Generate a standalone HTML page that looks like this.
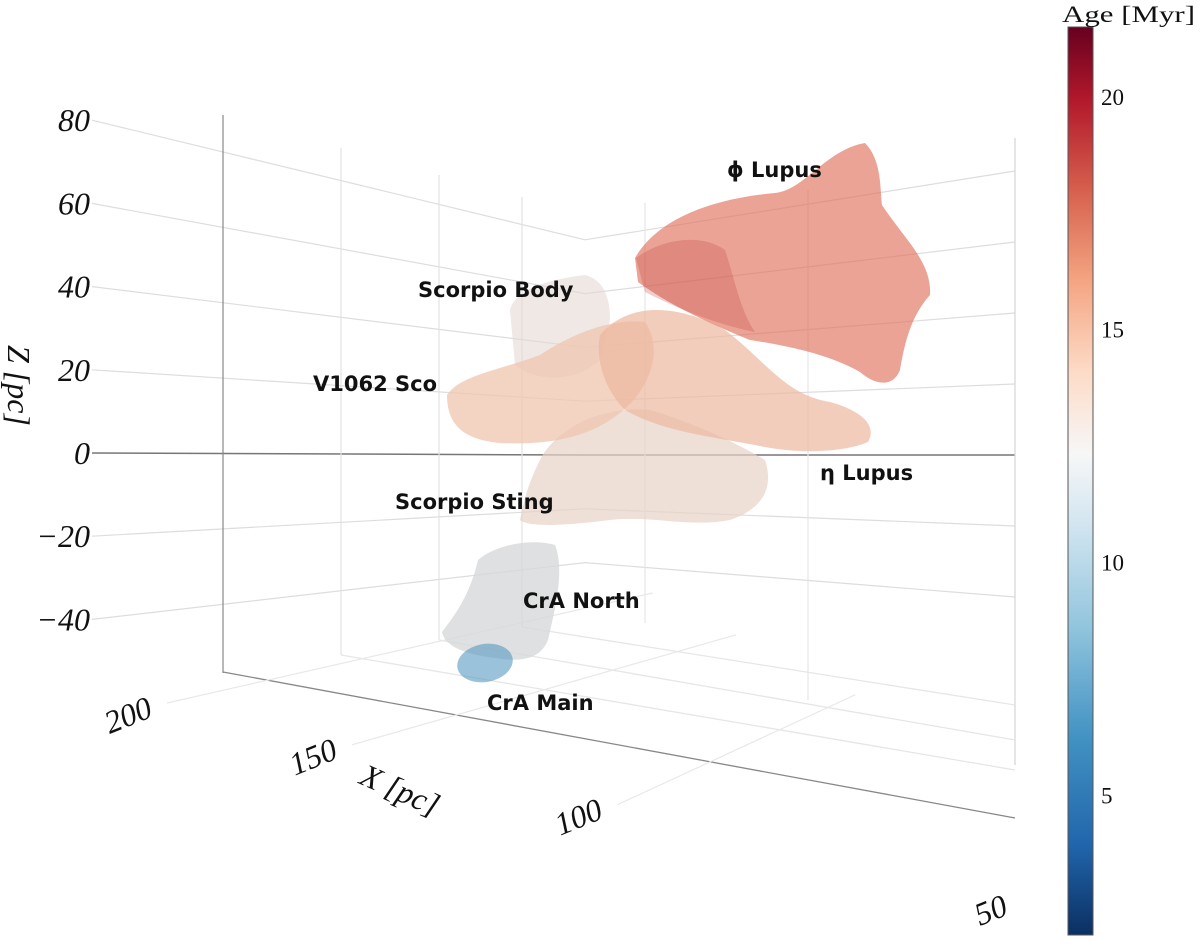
<!DOCTYPE html>
<html><head><meta charset="utf-8">
<style>
html,body{margin:0;padding:0;background:#fff;}
svg{display:block;}
.tick{font-family:"Liberation Serif",serif;font-size:32px;fill:#111;font-style:italic;}
.lab{font-family:"DejaVu Sans","Liberation Sans",sans-serif;font-size:21px;fill:#111;font-weight:bold;}
.cb{font-family:"Liberation Serif",serif;font-size:23px;fill:#111;}
</style></head>
<body>
<svg id="chart" width="1200" height="951" viewBox="0 0 1200 951" xmlns="http://www.w3.org/2000/svg">
<defs>
<linearGradient id="rdbu" x1="0" y1="1" x2="0" y2="0">
<stop offset="0" stop-color="#0b2f62"/>
<stop offset="0.1" stop-color="#2166ac"/>
<stop offset="0.22" stop-color="#4393c3"/>
<stop offset="0.34" stop-color="#92c5de"/>
<stop offset="0.45" stop-color="#d1e5f0"/>
<stop offset="0.53" stop-color="#f7f7f7"/>
<stop offset="0.62" stop-color="#fddbc7"/>
<stop offset="0.72" stop-color="#f4a582"/>
<stop offset="0.82" stop-color="#d6604d"/>
<stop offset="0.92" stop-color="#b2182b"/>
<stop offset="1" stop-color="#67001f"/>
</linearGradient>
</defs>
<g id="grid"></g>
<g id="blobs"></g>
<g id="labels"></g>
<g id="axes"></g>
<g id="colorbar"></g>
</svg>
<script>
const zTicks = [80, 60, 40, 20, 0, -20, -40];
const xTicks = [200, 150, 100, 50];
const cbTicks = [20, 15, 10, 5];
const cbRange = [2, 21.5];
const clusterNames = ["Scorpio Body", "V1062 Sco", "Scorpio Sting", "CrA North", "CrA Main", "η Lupus", "ϕ Lupus"];
const clusterAges = [13, 14.5, 13.5, 12.2, 7, 15, 17.5];

const NS = "http://www.w3.org/2000/svg";
function mk(tag, attrs, parent){const e=document.createElementNS(NS,tag);for(const k in attrs)e.setAttribute(k,attrs[k]);parent.appendChild(e);return e;}

function zLeft(z){return 453 - z*4.16;}
function zBack(z){return 455 - z*2.69;}
function zRight(z){return 455 - z*3.55;}

const grid=document.getElementById('grid');
zTicks.forEach(z=>{
  const c = z===0 ? '#777' : '#ddd';
  const l1=mk('polyline',{points:`92,${zLeft(z)} 585,${zBack(z)} 1015,${zRight(z)}`,fill:'none',stroke:c,'stroke-width':z===0?1.5:1.2},grid);
  
  
});
[[223,115,673,'#888'],[341,148,655,'#e2e2e2'],[439,175,640,'#e2e2e2'],[522,197,627,'#e2e2e2'],[645,203,623,'#e6e6e6'],[808,190,700,'#e6e6e6'],[1015,138,765,'#d4d4d4']].forEach(v=>{
  const l=mk('line',{x1:v[0],y1:v[1],x2:v[0],y2:v[2],stroke:v[3],'stroke-width':1.2},grid);
  
  
});
[[223,672,1015,818,'#888'],[341,655,1015,770,'#e6e6e6'],[439,640,1015,740,'#e6e6e6'],[522,627,1015,705,'#e6e6e6']].forEach(v=>{
  const l=mk('line',{x1:v[0],y1:v[1],x2:v[2],y2:v[3],stroke:v[4],'stroke-width':1.3},grid);
  
  
});
function xU(x){const t=(200-x)/150;return t/(1-0.454*t)/1.832;}
function xPos(x){const u=xU(x);return [132+863*u, 715+195*u];}
xTicks.forEach(x=>{
  const p=xPos(x);
  const x1=p[0]+35, y1=p[1]-12;
  if(x1>=1000) return;
  let x2=x1+(1015-p[0])*0.55, y2=y1-110;
  if(x2>1015){const f=(1015-x1)/(x2-x1);x2=1015;y2=y1-110*f;}
  const l=mk('line',{x1:x1,y1:y1,x2:x2,y2:y2,stroke:'#e8e8e8','stroke-width':1.2},grid);
  
  
});

const cstops=[[0,[11,47,98]],[0.1,[33,102,172]],[0.22,[67,147,195]],[0.34,[146,197,222]],[0.45,[209,229,240]],[0.53,[247,247,247]],[0.62,[253,219,199]],[0.72,[244,165,130]],[0.82,[214,96,77]],[0.92,[178,24,43]],[1,[103,0,31]]];
function ageColor(a,shade){
  shade = shade||1;
  const t=Math.max(0,Math.min(1,(a-cbRange[0])/(cbRange[1]-cbRange[0])));
  for(let i=1;i<cstops.length;i++){if(t<=cstops[i][0]){const a0=cstops[i-1],a1=cstops[i];const f=(t-a0[0])/(a1[0]-a0[0]);return 'rgb('+a0[1].map((v,k)=>Math.round((v+(a1[1][k]-v)*f)*shade)).join(',')+')';}}
  return 'rgb(103,0,31)';
}

const shapes = [
 "M510,310 C515,290 545,280 585,275 C605,280 610,300 610,320 L600,360 C580,380 540,385 515,365 Z",
 "M447,395 C460,375 500,370 540,355 C570,335 610,318 645,322 C665,350 650,395 610,420 C580,440 540,445 500,443 C470,440 447,430 447,395 Z",
 "M540,460 C555,430 600,405 650,410 C700,425 740,445 765,460 C775,490 760,510 730,520 C690,528 650,515 610,520 C570,525 530,528 520,520 C525,495 530,480 540,460 Z",
 "M478,560 C495,545 530,538 555,545 C565,570 555,610 548,640 C540,660 520,662 495,658 C470,655 445,648 442,632 C455,615 470,595 478,560 Z",
 "",
 "M600,335 C630,300 680,305 725,330 C765,360 785,395 830,402 C860,410 878,425 868,442 C845,452 800,455 755,445 C700,435 660,430 625,410 C605,390 595,360 600,335 Z",
 "M635,258 C660,215 720,198 775,193 C805,190 825,150 865,143 C882,160 880,190 882,205 C905,240 932,262 930,295 C912,315 905,340 900,370 C893,388 875,385 860,372 C830,355 790,346 750,340 C705,322 665,302 638,282 Z"
];
const opac=[0.6,0.75,0.7,0.8,0.8,0.7,0.65];
const shades=[0.92,0.95,0.92,0.88,0.95,0.95,1];
const blobs=document.getElementById('blobs');
const order=[2,0,1,5,6,3,4];
order.forEach(i=>{
  let el;
  const col = ageColor(clusterAges[i], shades[i]);
  if(i===4){
    el=mk('ellipse',{cx:485,cy:663,rx:28,ry:19,fill:col,'fill-opacity':0.6,transform:'rotate(-10 485 663)'},blobs);
  } else {
    el=mk('path',{d:shapes[i],fill:col,'fill-opacity':opac[i]},blobs);
  }
  
  
});
const inner=mk('path',{d:"M636,258 C660,240 700,232 725,250 C735,280 740,310 755,332 C720,325 680,310 645,292 Z",fill:ageColor(19),'fill-opacity':0.25},blobs);



const labelPos=[[418,297],[313,391],[395,509],[523,608],[487,710],[820,480],[727,177]];
const labels=document.getElementById('labels');
labelPos.forEach((p,i)=>{
  const t=mk('text',{x:p[0],y:p[1],class:'lab'},labels);
  t.textContent=clusterNames[i];
  
  
});

const axes=document.getElementById('axes');
zTicks.forEach(z=>{
  const t=mk('text',{x:90,y:zLeft(z)+11,class:'tick','text-anchor':'end'},axes);
  t.textContent = z<0 ? '−'+Math.abs(z) : String(z);
  
  
});
const zt=mk('text',{x:0,y:0,class:'tick',transform:'translate(8,345) rotate(90)','font-size':'28','font-style':'normal'},axes);
zt.textContent='Z [pc]';


xTicks.forEach(x=>{
  const p=xPos(x);
  const t=mk('text',{x:0,y:0,class:'tick','text-anchor':'middle',transform:`translate(${p[0]},${p[1]+10}) rotate(-22)`},axes);
  t.textContent=String(x);
  
  
});
const xt=mk('text',{x:0,y:0,class:'tick',transform:'translate(358,783) rotate(24)','font-size':'28'},axes);
xt.textContent='X [pc]';



const cb=document.getElementById('colorbar');
const bar=mk('rect',{x:1068,y:27,width:25,height:908,fill:'url(#rdbu)',stroke:'#555','stroke-width':1},cb);


function cbY(v){return 935-(v-cbRange[0])/(cbRange[1]-cbRange[0])*908;}
cbTicks.forEach(v=>{
  const t=mk('text',{x:1101,y:cbY(v)+8,class:'cb'},cb);
  t.textContent=String(v);
  
  
});
const ct=mk('text',{x:1062,y:22,class:'cb','font-size':'27',textLength:'133',lengthAdjust:'spacingAndGlyphs'},cb);
ct.textContent='Age [Myr]';


</script>
</body></html>
